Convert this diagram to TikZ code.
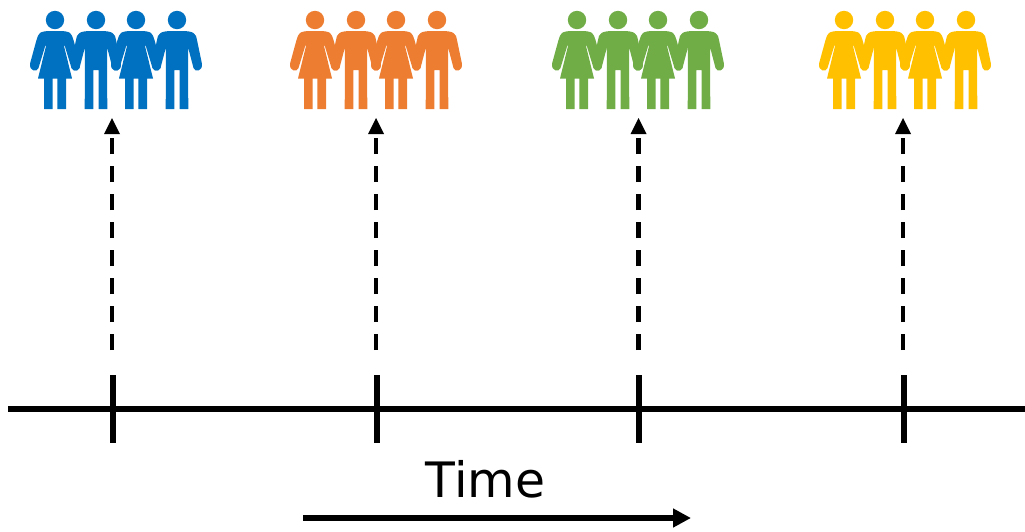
\documentclass[tikz,border=0pt]{standalone}
\usepackage{fontspec}
\setmainfont{DejaVu Sans}
\usetikzlibrary{arrows.meta}
\definecolor{cblue}{HTML}{0070C0}
\definecolor{corange}{HTML}{ED7D31}
\definecolor{cgreen}{HTML}{70AD47}
\definecolor{cyellow}{HTML}{FFC000}
\tikzset{
  axisline/.style={line width=6pt,black},
  tickline/.style={line width=5.8pt,black},
  riseline/.style={line width=4.4pt,black,dash pattern=on 16pt off 12pt},
  risetip/.style={black},
  timearrow/.style={line width=6pt,black,-{Triangle[length=18pt,width=18pt]}},
  woman/.pic={
    \fill (0,20) circle (9.2);
    \fill (-5,31) .. controls (-9,31) and (-13,31.5) .. (-15,33)
      .. controls (-17,34.5) and (-17.5,37) .. (-18.5,40)
      -- (-24.8,63) .. controls (-26.5,71) and (-18,73) .. (-16.5,68)
      -- (-9.5,45) -- (-9,46) -- (-17,78.5) -- (-11,78.5) -- (-11,109) -- (-2.3,109) -- (-2.3,78.5)
      -- (2.3,78.5) -- (2.3,109) -- (11,109) -- (11,78.5) -- (17,78.5) -- (9,46) -- (9.5,45)
      -- (16.5,68) .. controls (18,73) and (26.5,71) .. (24.8,63)
      -- (18.5,40) .. controls (17.5,37) and (17,34.5) .. (15,33)
      .. controls (13,31.5) and (9,31) .. (5,31) -- cycle;
  },
  man/.pic={
    \fill (0,20) circle (9.2);
    \fill (-5,31) .. controls (-10,31) and (-14,31.5) .. (-16.5,33)
      .. controls (-19,34.5) and (-19.5,37) .. (-20,40)
      -- (-24.8,63) .. controls (-26.5,71) and (-18,73) .. (-16.5,68)
      -- (-11,47) -- (-11.3,109) -- (-2.7,109) -- (-2.7,70)
      -- (2.7,70) -- (2.7,109) -- (11.3,109) -- (11,47)
      -- (16.5,68) .. controls (18,73) and (26.5,71) .. (24.8,63)
      -- (20,40) .. controls (19.5,37) and (19,34.5) .. (16.5,33)
      .. controls (14,31.5) and (10,31) .. (5,31) -- cycle;
  },
  crowd/.pic={
    \pic at (0,0) {woman};
    \pic at (41,0) {man};
    \pic at (81,0) {woman};
    \pic at (122,0) {man};
  }
}
\begin{document}
\begin{tikzpicture}[x=1pt,y=-1pt]
\useasboundingbox (0,0) rectangle (1025,531);
\pic[cblue] at (55,0) {crowd};
\pic[corange] at (315,0) {crowd};
\pic[cgreen] at (577,0) {crowd};
\pic[cyellow] at (844,0) {crowd};
\coordinate (axL) at (8,409);
\coordinate (axR) at (1025,409);
\draw[axisline] (axL) -- (axR);
\foreach \n/\tx/\ax in {a/113/112,b/377.2/376,c/639/638.5,d/904/903}{
  \coordinate (\n top) at (\tx,375);
  \coordinate (\n bot) at (\tx,443);
  \draw[tickline] (\n top) -- (\n bot);
  \coordinate (\n s) at (\ax,350);
  \coordinate (\n m) at (\ax,138);
  \coordinate (\n b) at (\ax,134);
  \coordinate (\n e) at (\ax,118);
  \draw[riseline] (\n s) -- (\n m);
  \fill[risetip] (\n e) -- ([xshift=8pt]\n b) -- ([xshift=-8pt]\n b) -- cycle;
}
\node[inner sep=0pt,anchor=base] (timelabel) at (485.5,497) {\fontsize{48.8}{48.8}\selectfont Time};
\coordinate (tS) at (303,518);
\coordinate (tE) at (691,518);
\draw[timearrow] (tS) -- (tE);
\end{tikzpicture}
\end{document}
